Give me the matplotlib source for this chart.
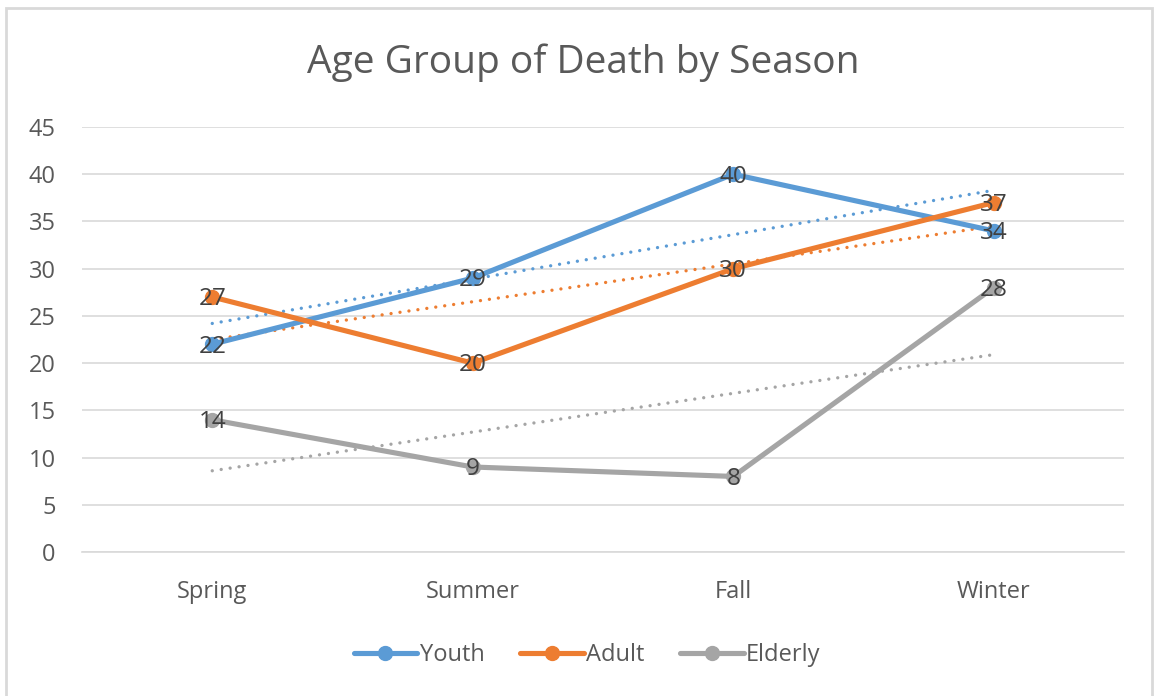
import matplotlib
matplotlib.use("Agg")
import matplotlib.pyplot as plt
from matplotlib.patches import Rectangle
import numpy as np

plt.rcParams['font.family'] = ['Open Sans', 'DejaVu Sans']

seasons = ["Spring", "Summer", "Fall", "Winter"]
youth = [22, 29, 40, 34]
adult = [27, 20, 30, 37]
elderly = [14, 9, 8, 28]

series = [("Youth", youth, "#5B9BD5"),
          ("Adult", adult, "#ED7D31"),
          ("Elderly", elderly, "#A5A5A5")]

W, H = 1154, 696
fig = plt.figure(figsize=(W / 100, H / 100), dpi=100)
fig.patch.set_facecolor("white")

# outer chart border
fig.patches.append(Rectangle((6 / W, -0.01), (1152 - 6) / W, (H - 8) / H + 0.01,
                             transform=fig.transFigure, fill=False,
                             edgecolor="#D9D9D9", linewidth=2))

ax = fig.add_axes([82 / W, (H - 552) / H, (1124 - 82) / W, (552 - 127) / H])
x = np.arange(len(seasons))

for name, vals, col in series:
    ax.plot(x, vals, color=col, linewidth=3.7, marker="o", markersize=10,
            label=name, solid_capstyle="round", zorder=3)
    m, b = np.polyfit(x, vals, 1)
    ax.plot(x, m * x + b, color=col, linewidth=2.4, linestyle=(0, (0.01, 2.7)),
            dash_capstyle="round", zorder=2)
    for xi, v in zip(x, vals):
        ax.text(xi, v - 0.25, str(v), ha="center", va="center", fontsize=17.5,
                color="#404040", zorder=4)

ax.set_xlim(-0.5, 3.5)
ax.set_ylim(0, 45)
ax.set_yticks(range(0, 46, 5))
ax.set_xticks(x)
ax.set_xticklabels(seasons)
ax.grid(axis="y", color="#D9D9D9", linewidth=1.2)
ax.set_axisbelow(True)
for s in ax.spines.values():
    s.set_visible(False)
ax.spines["bottom"].set_visible(True)
ax.spines["bottom"].set_color("#D9D9D9")
ax.spines["bottom"].set_linewidth(1.2)
ax.tick_params(axis="both", length=0, labelsize=17, labelcolor="#595959")
ax.tick_params(axis="x", pad=20)
ax.tick_params(axis="y", pad=19)

fig.text(583 / W, 1 - 63 / H, "Age Group of Death by Season", ha="center",
         va="center", fontsize=28, color="#595959")

leg = fig.legend(loc="center", bbox_to_anchor=(587 / W, 1 - 655 / H), ncol=3,
                 frameon=False, fontsize=17, labelcolor="#595959",
                 handlelength=2.7, columnspacing=1.5, handletextpad=0.1)

fig.savefig("out.png", dpi=100)
